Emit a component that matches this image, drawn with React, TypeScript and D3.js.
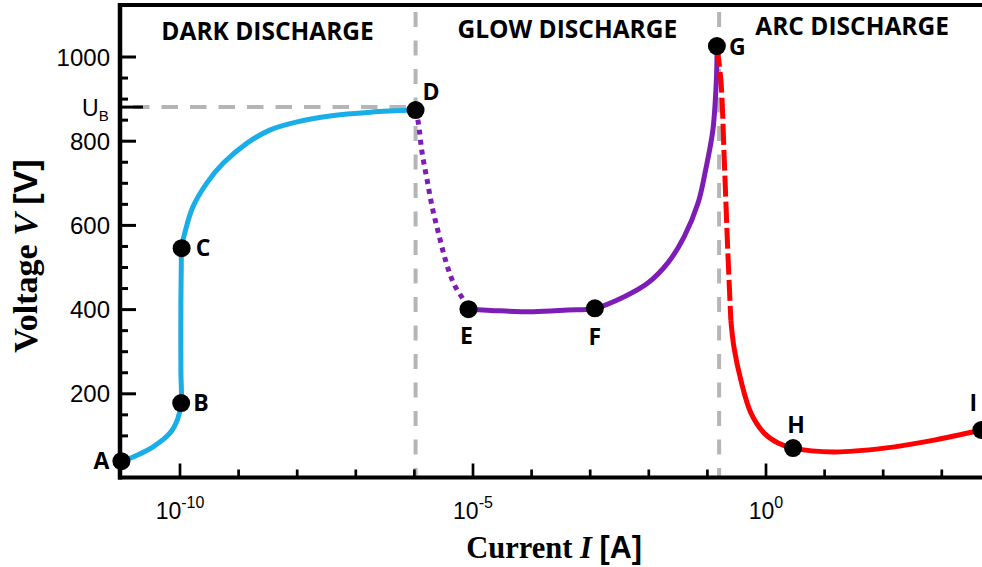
import React from "react";
import * as d3 from "d3";

// ---- data (x = log10 of current in A, y = voltage in V) ----
const darkLogI = [-11.0, -10.8, -10.46, -10.17, -10.04, -9.98, -9.985, -9.985, -9.978, -9.972, -9.915, -9.78, -9.54, -9.26, -8.85, -8.46, -8.0, -7.44, -6.75, -5.98];
const darkV = [40, 50, 74, 107, 140, 178, 256, 423, 506, 546, 584, 644, 701, 748, 796, 827, 846, 860, 869, 874];

const glowDottedLogI = [-5.98, -5.932, -5.868, -5.783, -5.697, -5.59, -5.47, -5.333, -5.162, -5.077];
const glowDottedV = [874, 843, 772, 708, 644, 582, 518, 463, 423, 401];

const glowLogI = [-5.077, -4.53, -3.97, -3.385, -2.92, -2.427, -2.017, -1.675, -1.4, -1.16, -1.03, -0.906, -0.855, -0.838, -0.838];
const glowV = [401, 397, 395, 399, 403, 430, 463, 511, 572, 653, 732, 827, 922, 986, 1026];

const arcDashedLogI = [-0.838, -0.77, -0.71, -0.655, -0.6];
const arcDashedV = [1026, 945, 748, 549, 375];

const arcLogI = [-0.6, -0.547, -0.43, -0.256, -0.034, 0.205, 0.462, 1.16, 2.02, 2.87, 3.675];
const arcV = [375, 311, 233, 154, 107, 83, 71, 62, 71, 90, 114];

const pointNames = ["A", "B", "C", "D", "E", "F", "G", "H", "I"];
const pointLogI = [-11.0, -9.98, -9.972, -5.98, -5.077, -2.92, -0.838, 0.462, 3.675];
const pointV = [40, 178, 546, 874, 401, 403, 1026, 71, 114];

const regionNames = ["DARK DISCHARGE", "GLOW DISCHARGE", "ARC DISCHARGE"];
const regionBoundsLogI = [-11.03, -5.98, -0.8, 3.74];

const breakdownV = 881;
const yMajorTicks = [200, 400, 600, 800, 1000];
const yMinorTicks = [50, 100, 150, 250, 300, 350, 450, 500, 550, 650, 700, 750, 850, 900, 950];
const xTickExps = [-10, -9, -8, -7, -6, -5, -4, -3, -2, -1, 0, 1, 2, 3];
const xLabelExps = [-10, -5, 0];

// ---- layout / style ----
const W = 982;
const H = 567;
const left = 120;
const top = 5;
const bottom = 477.5;
const gray = "#b5b5b5";
const blue = "#19aee8";
const purple = "#7d1db5";
const red = "#ff0000";

const labelOffsets: Record<string, [number, number, string]> = {
  A: [-12, 8, "end"],
  B: [12, 8, "start"],
  C: [14, 8, "start"],
  D: [7, -10, "start"],
  E: [-2, 35, "middle"],
  F: [0, 37, "middle"],
  G: [12, 9, "start"],
  H: [3, -15, "middle"],
  I: [-8, -19, "middle"],
};

export default function App() {
  const x = d3.scaleLog().domain([1e-10, 1]).range([180, 766]);
  const y = d3.scaleLinear().domain([0, 1000]).range([478, 57]);
  const px = (e: number) => x(Math.pow(10, e));

  const line = d3
    .line<[number, number]>()
    .x((d) => px(d[0]))
    .y((d) => y(d[1]))
    .curve(d3.curveCatmullRom.alpha(0.5));

  const zip = (a: number[], b: number[]) => a.map((v, i) => [v, b[i]] as [number, number]);

  const sans = "'Liberation Sans', Arial, sans-serif";
  const bold = "'Open Sans', 'Noto Sans', sans-serif";
  const serif = "'Liberation Serif', 'DejaVu Serif', serif";

  const dX = px(pointLogI[3]);
  const gX = px(regionBoundsLogI[2]);

  return (
    <svg width={W} height={H} style={{ position: "absolute", left: 0, top: 0, background: "#fff" }}>
      {/* region separators */}
      <line x1={dX} x2={dX} y1={12} y2={bottom} stroke={gray} strokeWidth={4} strokeDasharray="15 13.5" />
      <line x1={gX} x2={gX} y1={12} y2={bottom} stroke={gray} strokeWidth={4} strokeDasharray="15 13.5" />
      <line x1={133} x2={dX} y1={y(breakdownV)} y2={y(breakdownV)} stroke={gray} strokeWidth={4} strokeDasharray="16.5 12" />

      {/* curves */}
      <path d={line(zip(darkLogI, darkV)) || ""} fill="none" stroke={blue} strokeWidth={5} />
      <path d={line(zip(glowDottedLogI, glowDottedV)) || ""} fill="none" stroke={purple} strokeWidth={5} strokeDasharray="5 5" />
      <path d={line(zip(glowLogI, glowV)) || ""} fill="none" stroke={purple} strokeWidth={5} />
      <path d={line(zip(arcLogI, arcV)) || ""} fill="none" stroke={red} strokeWidth={5} />
      <path d={line(zip(arcDashedLogI, arcDashedV)) || ""} fill="none" stroke={red} strokeWidth={5} strokeDasharray="21 5" />

      {/* axes frame */}
      <line x1={left} x2={W} y1={top} y2={top} stroke="#000" strokeWidth={4} />
      <line x1={left} x2={left} y1={top - 2} y2={bottom + 2} stroke="#000" strokeWidth={4.5} />
      <line x1={left - 2} x2={W} y1={bottom} y2={bottom} stroke="#000" strokeWidth={4} />

      {/* y ticks */}
      {yMinorTicks.map((v) => (
        <line key={"ym" + v} x1={left} x2={left + 8} y1={y(v)} y2={y(v)} stroke="#000" strokeWidth={3} />
      ))}
      {yMajorTicks.map((v) => (
        <g key={"yM" + v}>
          <line x1={left} x2={left + 16} y1={y(v)} y2={y(v)} stroke="#000" strokeWidth={3} />
          <text x={110} y={y(v) + 8.5} textAnchor="end" fontFamily={sans} fontSize={24} fill="#000">
            {v}
          </text>
        </g>
      ))}
      <line x1={left} x2={143} y1={y(breakdownV)} y2={y(breakdownV)} stroke="#000" strokeWidth={3} />
      <text x={82} y={y(breakdownV) + 8.5} fontFamily={sans} fontSize={23} fill="#000">
        U<tspan fontSize={15} dy={5}>B</tspan>
      </text>

      {/* x ticks */}
      {xTickExps.map((e) => {
        const major = xLabelExps.includes(e);
        return (
          <line key={"xt" + e} x1={px(e)} x2={px(e)} y1={bottom} y2={bottom - (major ? 14 : 8)} stroke="#000" strokeWidth={2.7} />
        );
      })}
      {xLabelExps.map((e) => (
        <text key={"xl" + e} x={px(e)} y={519} textAnchor="middle" fontFamily={sans} fontSize={23} fill="#000">
          10<tspan fontSize={16} dy={-11}>{e}</tspan>
        </text>
      ))}

      {/* axis titles */}
      <text x={554} y={558} textAnchor="middle" fontFamily={serif} fontWeight="bold" fontSize={30.5} fill="#000">
        Current <tspan fontStyle="italic">I</tspan> <tspan fontFamily={sans}>[A]</tspan>
      </text>
      <text
        transform="translate(37,256) rotate(-90)"
        textAnchor="middle"
        fontFamily={serif}
        fontWeight="bold"
        fontSize={34}
        fill="#000"
      >
        Voltage <tspan fontStyle="italic">V</tspan> <tspan fontFamily={sans}>[V]</tspan>
      </text>

      {/* region titles */}
      {regionNames.map((name, i) => {
        const cx = (px(regionBoundsLogI[i]) + px(regionBoundsLogI[i + 1])) / 2;
        const base = [40, 38, 35][i];
        return (
          <text key={name} x={cx} y={base} textAnchor="middle" fontFamily={bold} fontWeight="bold" fontSize={24.5} fill="#000">
            {name}
          </text>
        );
      })}

      {/* points */}
      {pointNames.map((n, i) => {
        const cx = px(pointLogI[i]);
        const cy = y(pointV[i]);
        const [ox, oy, anchor] = labelOffsets[n];
        return (
          <g key={n}>
            <circle cx={cx} cy={cy} r={9} fill="#000" />
            <text x={cx + ox} y={cy + oy} textAnchor={anchor as any} fontFamily={bold} fontWeight="bold" fontSize={23} fill="#000">
              {n}
            </text>
          </g>
        );
      })}
    </svg>
  );
}
